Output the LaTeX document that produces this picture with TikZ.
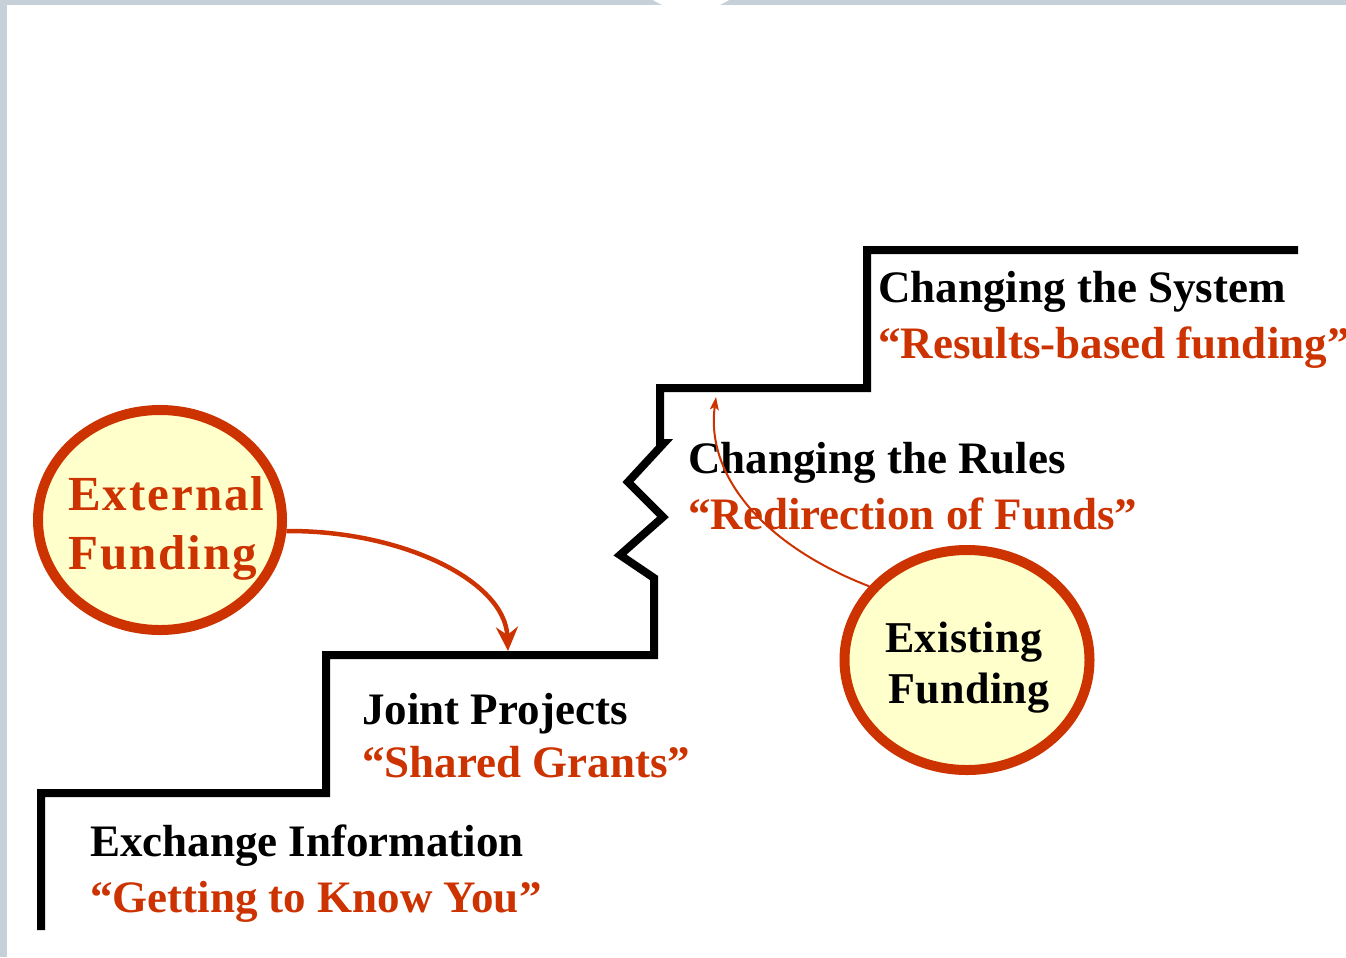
\documentclass[tikz,border=0pt]{standalone}
\usepackage{fontspec}
\setmainfont{Liberation Serif}
\usetikzlibrary{shapes.geometric,arrows.meta}
\definecolor{brick}{HTML}{CC3300}
\definecolor{cream}{HTML}{FFFFCC}
\definecolor{framegray}{HTML}{C6D0D8}
\begin{document}
\begin{tikzpicture}[x=1bp,y=-1bp,
  stair/.style={line width=8bp, line join=miter, black},
  fund/.style={ellipse, draw=brick, fill=cream, line width=10bp, inner sep=0pt},
  lbl/.style={anchor=base west, inner sep=0pt, font=\bfseries\fontsize{45bp}{54bp}\selectfont},
  redlbl/.style={lbl, text=brick},
  extlbl/.style={anchor=base west, inner sep=0pt, text=brick, font=\bfseries\fontsize{49bp}{58bp}\selectfont\addfontfeature{LetterSpace=4}},
  exilbl/.style={anchor=base west, inner sep=0pt, font=\bfseries\fontsize{44bp}{52bp}\selectfont\addfontfeature{LetterSpace=1}},
  bigarrow/.style={draw=brick, line width=4.5bp, -{Stealth[length=24bp,width=22bp,inset=8bp]}},
  thinarrow/.style={draw=brick, line width=2bp, -{Stealth[length=13bp,width=9bp,inset=3bp]}}
]
\useasboundingbox (0,0) rectangle (1346,957);
\fill[white] (0,0) rectangle (1346,957);
\fill[framegray] (0,0) rectangle (1346,5);
\fill[framegray] (0,0) rectangle (7,957);
\begin{scope}
  \clip (0,0) rectangle (1346,957);
  \fill[white] (691,-60) circle[radius=71];
\end{scope}

% staircase
\draw[stair] (41,930) -- (41,793) -- (326,793) -- (326,655) -- (654,655)
  -- (654,578) -- (620,555) -- (663,517) -- (628,482) -- (664,443)
  -- (660,443) -- (660,388) -- (867,388) -- (867,250) -- (1298,250);

% step labels
\node[lbl] (sys) at (878,302) {Changing the System};
\node[redlbl] (sysq) at (878,358) {“Results-based funding”};
\node[lbl] (rul) at (688,473) {Changing the Rules};
\node[redlbl] (rulq) at (688,529) {“Redirection of Funds”};
\node[lbl] (joint) at (362,724) {Joint Projects};
\node[redlbl] (jointq) at (362,777) {“Shared Grants”};
\node[lbl] (exch) at (90,856) {Exchange Information};
\node[redlbl] (exchq) at (90,912) {“Getting to Know You”};

% funding circles
\node[fund, minimum width=244bp, minimum height=220bp] (ext) at (160,520) {};
\node[extlbl] (ext1) at (68,510) {External};
\node[extlbl] (ext2) at (68,569) {Funding};

\node[fund, minimum width=245bp, minimum height=220bp] (exist) at (967,660) {};
\node[exilbl] (exi1) at (885,652) {Existing};
\node[exilbl] (exi2) at (888,703) {Funding};

% arrows
\coordinate (jointtop) at (508,651);
\coordinate (rulestop) at (716,397);
\draw[bigarrow] (ext.-5) .. controls (400,530) and (505,580) .. (jointtop);
\draw[thinarrow] (exist.143) .. controls (770,548) and (705,480) .. (rulestop);
\end{tikzpicture}
\end{document}
